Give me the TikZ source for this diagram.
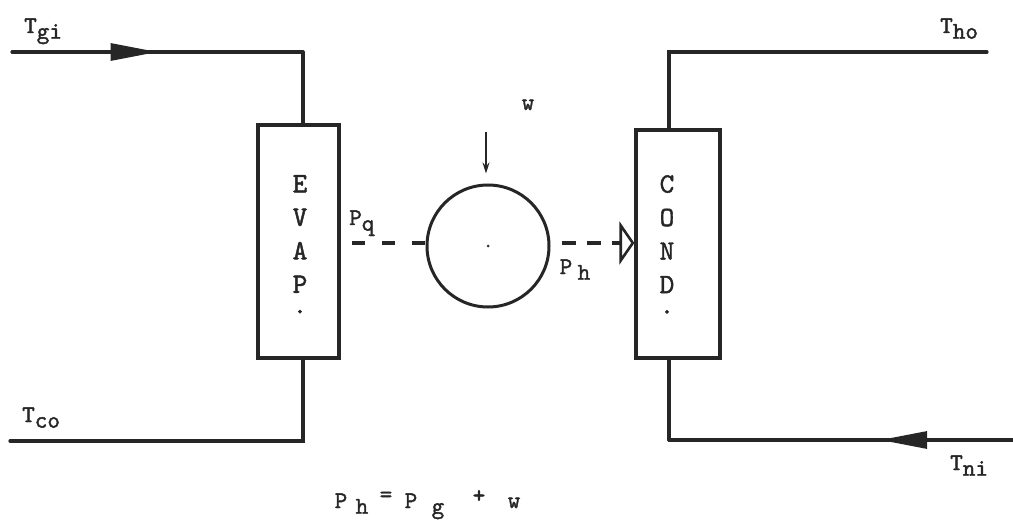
\documentclass[tikz,border=0pt]{standalone}
\usepackage{fontspec}
\newfontfamily\tw[Extension=.otf,FakeBold=1.5]{lmmono10-regular}
\usetikzlibrary{arrows.meta,decorations.markings}
\newcommand{\lo}[1]{\raisebox{-0.55ex}{#1}}
\newcommand{\putat}[2]{\rlap{\hspace{#1}#2}}
\tikzset{
  pipe/.style={line width=3.2pt,line cap=round,line join=miter,draw=black!85},
  unitbox/.style={draw=black!85,line width=3.2pt,rectangle,minimum width=81pt,minimum height=233pt,inner sep=0pt},
  comp/.style={draw=black!85,line width=3pt,circle,minimum size=122pt,inner sep=0pt},
  lbl/.style={font=\tw\fontsize{24}{26}\selectfont,inner sep=0pt,anchor=base west,text=black!85},
  boxtxt/.style={font=\tw\fontsize{28}{33.5}\selectfont,align=center,inner sep=0pt,text=black!85},
  power/.style={line width=3.2pt,draw=black!85},
  flowarrow/.style={postaction={decorate},decoration={markings,
     mark=at position #1 with {\arrow{Triangle[length=47pt,width=17pt]}}}},
}
\begin{document}
\begin{tikzpicture}[x=1pt,y=-1pt]
\useasboundingbox (0,0) rectangle (1013,524);
% units
\node[unitbox] (evap) at (298.5,241.5) {};
\node[unitbox,minimum width=84pt,minimum height=228pt] (cond) at (678,244) {};
\node[comp] (cmp) at (488,246) {};
\fill[black!80] (cmp.center) circle (1.5pt);
\node[boxtxt,anchor=north] (evaptxt) at (300,175) {E\\V\\A\\P\\[-13pt].};
\node[boxtxt,anchor=north] (condtxt) at (667,175) {C\\O\\N\\D\\[-13pt].};
% evaporator stream
\coordinate (gi) at (12,52);
\coordinate (ec1) at (303,52);
\coordinate (co) at (10,441);
\coordinate (ec2) at (303,441);
\draw[pipe,flowarrow=0.5] (gi) -- (ec1);
\draw[pipe] (ec1) -- (ec1 |- evap.north);
\draw[pipe] (ec2 |- evap.south) -- (ec2) -- (co);
% condenser stream
\coordinate (ho) at (987,52);
\coordinate (cc1) at (669,52);
\coordinate (ni) at (1013,440);
\coordinate (cc2) at (669,440);
\draw[pipe] (cc1 |- cond.north) -- (cc1) -- (ho);
\draw[pipe,flowarrow=0.386] (ni) -- (cc2);
\draw[pipe] (cc2) -- (cc2 |- cond.south);
% power flows
\draw[power,dash pattern=on 13pt off 17pt,dash phase=19pt] (evap.east |- 0,243) -- (cmp.west |- 0,243);
\draw[power,dash pattern=on 14pt off 11pt,dash phase=14pt,-{Triangle[open,length=15pt,width=43pt,line width=2.6pt]}]
  (cmp.east |- 0,243) -- (cond.west |- 0,243);
\coordinate (wtop) at (486,132);
\draw[line width=1.6pt,draw=black!85,-{Stealth[length=11pt,width=7pt]},shorten >=10pt] (wtop) -- (cmp.north -| wtop);
% labels
\node[lbl] (tgi) at (24,33) {T\lo{gi}};
\node[lbl] (tco) at (22,422) {T\lo{co}};
\node[lbl] (tho) at (940,33) {T\lo{ho}};
\node[lbl] (tni) at (950,470) {T\lo{ni}};
\node[lbl] (pq) at (349,225) {P\lo{q}};
\node[lbl] (ph) at (559,274) {\putat{0pt}{P}\putat{18pt}{\lo{h}}\hspace{33pt}};
\node[lbl,anchor=base] (w) at (528,110) {w};
\node[lbl] (eq) at (334,508) {\putat{0pt}{P}\putat{21pt}{\lo{h}}\putat{45pt}{\raisebox{0.6ex}{=}}\putat{70pt}{P}\putat{97pt}{\lo{g}}\putat{138pt}{\raisebox{0.5ex}{+}}\putat{173pt}{w}\hspace{186pt}};
\end{tikzpicture}
\end{document}
